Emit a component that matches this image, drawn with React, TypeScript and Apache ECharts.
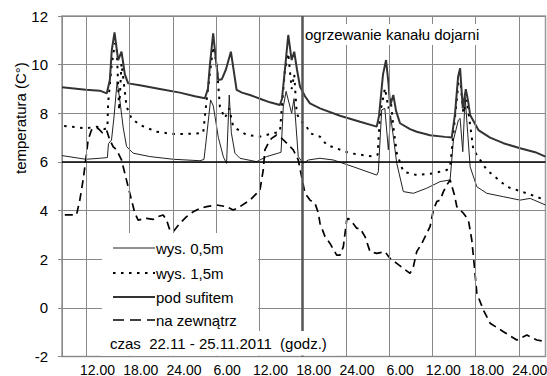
import React, { useEffect, useRef } from 'react';
import * as echarts from 'echarts';

const FONT = '"Liberation Sans", Arial, sans-serif';

// x: hours since 22.11 00:00, y: temperature (°C)
const xTickHours = [12, 18, 24, 30, 36, 42, 48, 54, 60, 66, 72];
const xTickLabels = ['12.00', '18.00', '24.00', '6.00', '12.00', '18.00', '24.00', '6.00', '12.00', '18.00', '24.00'];
const yTicks = [-2, 0, 2, 4, 6, 8, 10, 12];

const seriesNames = ['wys. 0,5m', 'wys. 1,5m', 'pod sufitem', 'na zewnątrz'];

const wys05 = [
  [8.6, 6.26], [11.9, 6.11], [13.85, 6.15], [14.9, 6.18], [15.05, 6.75], [15.47, 6.9], [15.8, 7.8], [16.25, 9.3],
  [16.6, 8.6], [17.1, 7.4], [17.56, 6.63], [18.47, 6.36], [20.79, 6.22], [24.03, 6.11], [27.74, 6.05], [28.3, 6.1],
  [28.5, 6.6], [29.22, 8.55], [29.6, 8.3], [30.3, 7.0], [31.0, 6.2], [31.44, 5.94], [31.81, 8.75], [32.1, 7.2],
  [32.6, 6.36], [33.29, 6.15], [35.61, 6.01], [37.0, 6.22], [38.61, 6.36], [39.0, 6.4], [39.31, 8.27], [39.7, 8.9],
  [40.47, 8.0], [40.8, 8.6], [41.39, 6.22], [42.08, 5.94], [42.8, 6.08], [44.4, 6.15], [46.25, 6.08], [49.03, 5.8],
  [52.28, 5.46], [52.5, 5.6], [52.97, 8.14], [53.4, 8.2], [53.89, 6.5], [54.2, 7.9], [54.6, 7.0], [55.06, 5.94],
  [55.97, 4.78], [57.36, 4.71], [59.22, 4.92], [61.07, 5.19], [62.46, 5.26], [62.92, 6.9], [63.61, 7.72], [63.85, 7.79],
  [64.22, 6.42], [64.54, 8.68], [65.24, 5.8], [66.17, 4.98], [67.56, 4.71], [69.86, 4.57], [72.18, 4.43], [73.57, 4.5],
  [75.7, 4.23],
];

const wys15 = [
  [8.9, 7.48], [11.9, 7.38], [13.39, 7.45], [14.5, 7.35], [14.9, 7.4], [15.0, 8.41], [15.47, 9.92], [15.93, 10.88],
  [16.2, 10.6], [16.53, 8.13], [16.86, 10.05], [17.56, 8.27], [18.25, 7.79], [19.4, 7.52], [21.72, 7.24], [24.03, 7.15],
  [25.89, 7.15], [27.74, 7.18], [28.2, 7.2], [28.67, 8.55], [29.58, 10.74], [30.06, 10.05], [30.51, 8.27], [31.2, 7.8],
  [31.8, 8.2], [32.36, 7.45], [34.22, 7.11], [36.07, 7.04], [37.92, 7.18], [38.85, 7.24], [39.08, 8.14], [39.54, 9.78],
  [40.0, 10.47], [40.47, 9.0], [40.83, 9.6], [41.17, 8.0], [41.63, 7.72], [42.56, 7.45], [43.01, 7.18], [44.4, 7.04],
  [45.33, 6.7], [48.57, 6.36], [51.81, 6.22], [52.4, 6.3], [52.74, 8.0], [53.43, 9.03], [53.9, 8.2], [54.2, 8.6],
  [54.6, 7.4], [55.06, 6.36], [55.97, 5.6], [57.83, 5.46], [60.14, 5.53], [62.0, 5.67], [62.46, 5.8], [62.92, 7.18],
  [63.61, 9.23], [63.9, 9.3], [64.3, 8.0], [64.78, 8.55], [65.69, 6.5], [67.56, 5.67], [70.33, 4.98], [73.11, 4.71],
  [75.7, 4.43],
];

const podSufitem = [
  [8.6, 9.07], [11.9, 8.97], [13.85, 8.93], [14.82, 8.82], [15.24, 9.37], [15.51, 10.6], [15.89, 11.33], [16.39, 10.19],
  [16.86, 10.53], [17.32, 9.6], [17.78, 9.23], [19.4, 9.15], [22.18, 9.0], [24.96, 8.85], [27.04, 8.7], [28.43, 8.62],
  [28.85, 9.0], [29.13, 10.0], [29.58, 11.29], [29.96, 10.2], [30.28, 9.37], [30.79, 9.4], [31.35, 9.8], [32.04, 10.53],
  [32.46, 9.7], [32.83, 8.96], [33.57, 8.85], [34.68, 8.75], [36.07, 8.6], [37.46, 8.45], [38.85, 8.34], [39.13, 8.6],
  [39.54, 9.8], [40.0, 11.22], [40.47, 10.19], [40.83, 10.53], [41.21, 9.8], [41.63, 9.1], [42.32, 8.7], [43.01, 8.41],
  [44.4, 8.2], [47.18, 7.9], [49.96, 7.65], [52.28, 7.45], [52.6, 7.9], [53.15, 9.6], [53.57, 10.19], [53.92, 9.2],
  [54.13, 8.3], [54.58, 8.75], [54.96, 8.1], [55.51, 7.59], [56.9, 7.35], [57.83, 7.24], [59.68, 7.1], [61.76, 7.03],
  [62.69, 7.0], [63.15, 8.0], [63.57, 9.5], [63.85, 9.85], [64.22, 8.2], [64.64, 8.99], [64.96, 8.5], [65.24, 7.93],
  [66.39, 7.31], [68.01, 7.0], [69.86, 6.77], [72.18, 6.56], [74.27, 6.4], [75.7, 6.22],
];

const naZewnatrz = [
  [8.99, 3.82], [10.61, 3.82], [11.07, 4.43], [11.53, 5.26], [11.9, 6.08], [12.22, 6.9], [12.69, 7.31], [12.92, 7.38],
  [13.61, 7.38], [14.2, 7.2], [14.78, 7.31], [15.24, 6.9], [15.69, 6.63], [16.17, 6.5], [16.86, 6.08], [17.32, 5.53],
  [17.78, 4.98], [18.25, 4.43], [18.71, 3.89], [19.17, 3.61], [20.33, 3.68], [21.25, 3.64], [21.94, 3.75], [22.64, 3.82],
  [23.11, 3.61], [23.57, 3.2], [24.03, 3.13], [24.96, 3.48], [25.89, 3.75], [26.81, 3.95], [27.74, 4.09], [28.67, 4.16],
  [30.06, 4.23], [31.44, 4.16], [32.36, 4.02], [33.29, 4.16], [34.68, 4.43], [36.07, 4.84], [36.53, 5.67], [36.76, 6.5],
  [37.22, 6.77], [37.69, 6.97], [38.39, 7.11], [38.85, 7.04], [39.78, 6.77], [40.69, 6.5], [41.39, 6.08], [41.86, 5.39],
  [42.32, 4.71], [43.01, 4.43], [43.71, 4.3], [44.17, 3.9], [44.4, 3.48], [45.1, 2.93], [45.79, 2.65], [46.72, 2.17],
  [47.18, 2.17], [47.64, 2.51], [48.11, 3.61], [48.33, 3.68], [48.81, 3.54], [49.5, 3.27], [49.96, 3.27], [50.65, 2.93],
  [51.35, 2.31], [52.28, 2.24], [53.43, 2.31], [54.13, 2.03], [55.06, 1.83], [55.97, 1.62], [56.9, 1.42], [57.36, 1.69],
  [57.83, 2.31], [58.53, 2.65], [59.22, 3.06], [59.68, 3.34], [60.14, 4.02], [60.61, 4.37], [61.07, 4.43], [61.53, 4.78],
  [62.0, 5.05], [62.46, 5.26], [63.1, 4.6], [63.39, 4.16], [64.31, 3.89], [65.0, 3.61], [65.47, 2.79], [65.79, 1.83],
  [66.17, 0.6], [67.08, -0.09], [68.01, -0.63], [69.86, -0.98], [71.72, -1.32], [73.11, -1.12], [74.5, -1.32], [75.7, -1.39],
];

const titleText = 'ogrzewanie kanału dojarni';
const yAxisTitle = 'temperatura (C°)';
const periodText = 'czas  22.11 - 25.11.2011  (godz.)';
const specialHour = 42;
const referenceTemp = 6;

const txt = (text: string, x: number, y: number, size = 15, extra: any = {}) => ({
  type: 'text',
  z: 100,
  ...extra,
  style: {
    text,
    x,
    y,
    fill: '#000',
    font: `${size}px ${FONT}`,
    align: 'left',
    verticalAlign: 'middle',
  },
});

const legendLine = (y: number, style: any) => ({
  type: 'line',
  z: 100,
  shape: { x1: 113, y1: y, x2: 155, y2: y },
  style: { stroke: '#000', lineWidth: 1, ...style },
});

export default function App() {
  const ref = useRef<HTMLDivElement>(null);
  useEffect(() => {
    const chart = echarts.init(ref.current!, null, { renderer: 'svg' });
    const option: any = {
      animation: false,
      backgroundColor: '#fff',
      textStyle: { fontFamily: FONT },
      grid: {
        left: 62,
        right: 1.5,
        top: 16,
        bottom: 19.5,
        show: true,
        borderColor: '#999',
        borderWidth: 1.5,
        containLabel: false,
        outerBoundsMode: 'none',
      },
      xAxis: {
        type: 'value',
        min: 8.6,
        max: 75.7,
        axisLine: { show: true, lineStyle: { color: '#888' } },
        axisTick: { show: true, length: 4, lineStyle: { color: '#888' }, customValues: xTickHours },
        axisLabel: {
          customValues: xTickHours,
          color: '#000',
          fontSize: 14,
          fontFamily: FONT,
          margin: 6,
          padding: [0, 0, 0, 22],
          formatter: (v: number) => {
            const i = xTickHours.indexOf(Math.round(v));
            return i >= 0 ? xTickLabels[i] : '';
          },
        },
        splitLine: { show: false },
      },
      yAxis: {
        type: 'value',
        min: yTicks[0],
        max: yTicks[yTicks.length - 1],
        interval: 2,
        axisLine: { show: true, lineStyle: { color: '#888' } },
        axisTick: { show: true, length: 4, lineStyle: { color: '#888' } },
        axisLabel: { color: '#000', fontSize: 15, fontFamily: FONT, margin: 14, padding: [6, 0, 0, 0] },
        splitLine: { show: true, lineStyle: { color: '#888', width: 1 } },
      },
      series: [
        {
          name: 'grid',
          type: 'line',
          data: [],
          z: 1,
          silent: true,
          markLine: {
            silent: true,
            symbol: ['none', 'none'],
            label: { show: false },
            data: [
              ...xTickHours.map((h) => ({
                xAxis: h,
                lineStyle: h === specialHour ? { color: '#555', width: 2.5, type: 'solid' } : { color: '#888', width: 1, type: 'solid' },
              })),
              { yAxis: referenceTemp, lineStyle: { color: '#000', width: 1.5, type: 'solid' } },
            ],
          },
        },
        {
          name: seriesNames[0],
          type: 'line',
          data: wys05,
          showSymbol: false,
          z: 3,
          lineStyle: { color: '#222', width: 1 },
        },
        {
          name: seriesNames[1],
          type: 'line',
          data: wys15,
          showSymbol: false,
          z: 3,
          lineStyle: { color: '#000', width: 2, type: [2.5, 5.5] },
        },
        {
          name: seriesNames[2],
          type: 'line',
          data: podSufitem,
          showSymbol: false,
          z: 3,
          lineStyle: { color: '#333', width: 2 },
        },
        {
          name: seriesNames[3],
          type: 'line',
          data: naZewnatrz,
          showSymbol: false,
          z: 3,
          lineStyle: { color: '#000', width: 1.7, type: [8, 5] },
        },
      ],
      graphic: [
        { type: 'rect', z: 99, shape: { x: 304.5, y: 24, width: 178, height: 21 }, style: { fill: '#fff' } },
        txt(titleText, 305, 34.5),
        txt(yAxisTitle, 20, 174, 15, { rotation: Math.PI / 2, originX: 20, originY: 174 }),
        { type: 'rect', z: 99, shape: { x: 102, y: 233, width: 156, height: 122.5 }, style: { fill: '#fff' } },
        { type: 'rect', z: 99, shape: { x: 100, y: 331, width: 237, height: 24.5 }, style: { fill: '#fff' } },
        legendLine(248, { stroke: '#222', lineWidth: 1 }),
        txt(seriesNames[0], 156, 248),
        legendLine(273, { lineWidth: 2, lineDash: [2.5, 5.5] }),
        txt(seriesNames[1], 156, 273),
        legendLine(297, { stroke: '#333', lineWidth: 2 }),
        txt(seriesNames[2], 156, 297),
        legendLine(320, { lineWidth: 1.7, lineDash: [11, 6] }),
        txt(seriesNames[3], 156, 320),
        txt(periodText, 110, 343),
      ],
    };
    chart.setOption(option);
    return () => chart.dispose();
  }, []);
  return (
    <div
      ref={ref}
      style={{ position: 'absolute', left: 0, top: 0, width: 547, height: 376, background: '#fff' }}
    />
  );
}
